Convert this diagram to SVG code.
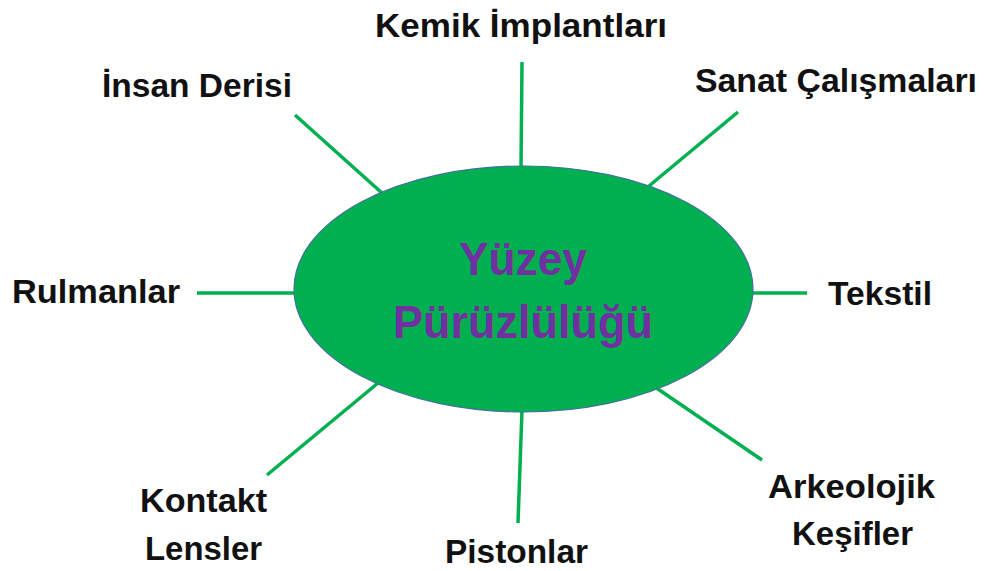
<svg xmlns="http://www.w3.org/2000/svg" width="984" height="571" viewBox="0 0 984 571">
<style>
.lbl{font-family:"Liberation Sans",Arial,sans-serif;font-weight:bold;font-size:33px;fill:#111}
.ctr{font-family:"Liberation Sans",Arial,sans-serif;font-weight:bold;font-size:46px;fill:#7030A0}
.conn line{stroke:#00B050;stroke-width:3.5;stroke-linecap:butt}
</style>
<rect width="984" height="571" fill="#fff"/>
<g id="connectors" class="conn">
<line x1="522" y1="62" x2="521" y2="168"/>
<line x1="738" y1="112" x2="649" y2="186"/>
<line x1="295" y1="115" x2="382" y2="193"/>
<line x1="197" y1="293" x2="295" y2="293"/>
<line x1="752" y1="293" x2="807" y2="293"/>
<line x1="267" y1="475" x2="378" y2="383"/>
<line x1="522" y1="410" x2="518" y2="523"/>
<line x1="655" y1="387" x2="762" y2="460"/>
</g>
<g id="center">
<ellipse cx="523.5" cy="289" rx="229.5" ry="123" fill="#00B050" stroke="#41719C" stroke-width="1.2"/>
<text class="ctr" x="523" y="275" text-anchor="middle" textLength="128" lengthAdjust="spacingAndGlyphs">Yüzey</text>
<text class="ctr" x="523" y="338" text-anchor="middle" textLength="260" lengthAdjust="spacingAndGlyphs">Pürüzlülüğü</text>
</g>
<g id="kemik"><text class="lbl" x="375" y="37" textLength="292" lengthAdjust="spacingAndGlyphs">Kemik İmplantları</text></g>
<g id="sanat"><text class="lbl" x="695" y="92" textLength="282" lengthAdjust="spacingAndGlyphs">Sanat Çalışmaları</text></g>
<g id="insan"><text class="lbl" x="102" y="97" textLength="190" lengthAdjust="spacingAndGlyphs">İnsan Derisi</text></g>
<g id="rulmanlar"><text class="lbl" x="12" y="303" textLength="168" lengthAdjust="spacingAndGlyphs">Rulmanlar</text></g>
<g id="tekstil"><text class="lbl" x="828" y="305" textLength="104" lengthAdjust="spacingAndGlyphs">Tekstil</text></g>
<g id="kontakt"><text class="lbl" x="140" y="512" textLength="127" lengthAdjust="spacingAndGlyphs">Kontakt</text><text class="lbl" x="145" y="560" textLength="117" lengthAdjust="spacingAndGlyphs">Lensler</text></g>
<g id="pistonlar"><text class="lbl" x="445" y="563" textLength="143" lengthAdjust="spacingAndGlyphs">Pistonlar</text></g>
<g id="arkeolojik"><text class="lbl" x="768" y="498" textLength="167" lengthAdjust="spacingAndGlyphs">Arkeolojik</text><text class="lbl" x="792" y="545" textLength="121" lengthAdjust="spacingAndGlyphs">Keşifler</text></g>
</svg>
